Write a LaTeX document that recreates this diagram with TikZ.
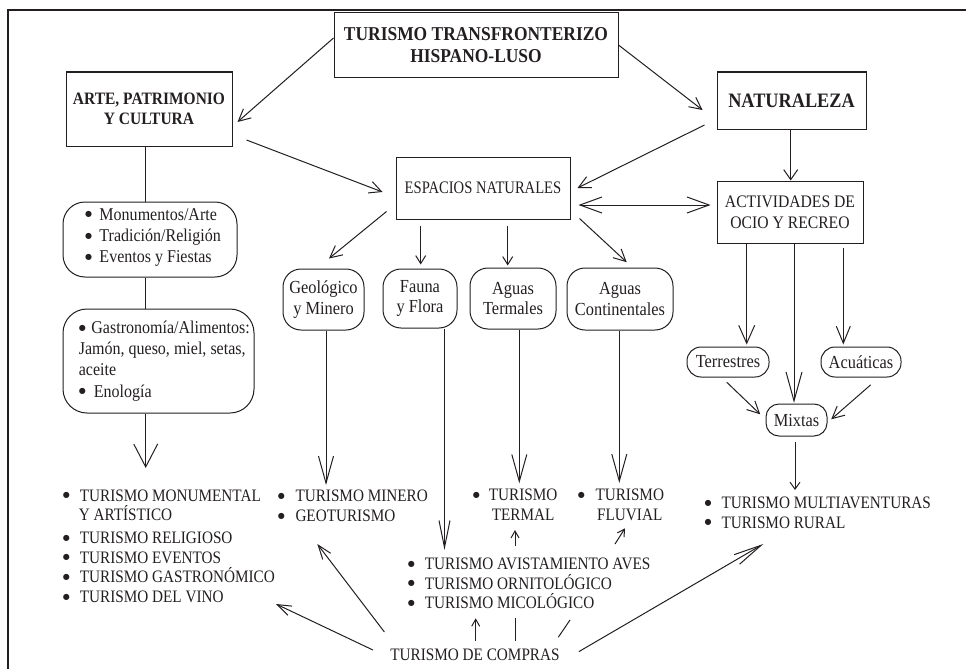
\documentclass[tikz,border=0pt]{standalone}
\usepackage{fontspec}
\setmainfont{Liberation Serif}
\newfontfamily\fcond{Liberation Serif}[FakeStretch=0.83]
\newfontfamily\flist{Liberation Serif}[FakeStretch=0.87]
\newfontfamily\fmixc{Liberation Serif}[FakeStretch=0.89]
\newfontfamily\symf{DejaVu Sans}
\usetikzlibrary{arrows.meta,calc}
\definecolor{ink}{RGB}{35,31,32}
\newcommand{\mybul}[1]{\makebox[#1][l]{\raisebox{3.3pt}{\symf\fontsize{8}{8}\selectfont ●}}}
\newcommand{\capsf}{\flist\fontsize{17.5}{19.7}\selectfont}
\newcommand{\espf}{\fcond\fontsize{17.6}{20}\selectfont}
\newcommand{\actf}{\fmixc\fontsize{17.6}{20.6}\selectfont}
\newcommand{\mixf}{\fmixc\fontsize{18.4}{20.5}\selectfont}
\newcommand{\monf}{\fmixc\fontsize{18}{21.2}\selectfont}
\newcommand{\titf}{\fmixc\fontsize{19.6}{21.7}\selectfont\bfseries}
\newcommand{\artf}{\fmixc\fontsize{17.4}{20}\selectfont\bfseries}
\newcommand{\natf}{\fmixc\fontsize{20.5}{22}\selectfont\bfseries}
\begin{document}
\begin{tikzpicture}[x=1pt,y=-1pt,color=ink,line width=1pt,
  every node/.style={inner sep=0pt},
  sqbox/.style={draw, rectangle, align=center},
  rbox/.style={draw, rectangle, rounded corners=#1, align=center},
  rbox/.default=17pt,
  aN/.style={-{Straight Barb[length=12pt,width=12pt]}},
  aM/.style={-{Straight Barb[length=8pt,width=10pt]}},
  aV/.style={-{Straight Barb[length=27pt,width=15pt]}},
  aS/.style={-{Straight Barb[length=7pt,width=8pt]}},
  aC/.style={-{Straight Barb[length=14pt,width=10pt]}}]
\useasboundingbox (0,0) rectangle (966,669);
\draw[line width=1.1pt] (8,669) -- (8,10) -- (966,10);

% main boxes
\node[sqbox, minimum width=284pt, minimum height=64pt, font=\titf] (title) at (476,45) {TURISMO TRANSFRONTERIZO\\HISPANO-LUSO};
\node[sqbox, minimum width=166pt, minimum height=74pt, font=\artf] (arte) at (149,109) {ARTE, PATRIMONIO\\Y CULTURA};
\node[sqbox, minimum width=149pt, minimum height=57pt, font=\natf] (nat) at (791.5,100.5) {NATURALEZA};
\node[sqbox, minimum width=174pt, minimum height=62pt, font=\espf] (esp) at (483,188) {ESPACIOS NATURALES};
\node[sqbox, minimum width=146pt, minimum height=62pt, font=\actf] (act) at (790,212) {ACTIVIDADES DE\\OCIO Y RECREO};

% rounded boxes
\node[rbox=18pt, minimum width=81pt, minimum height=61pt, font=\mixf] (geo) at (323.5,299.5) {Geológico\\y Minero};
\node[rbox=18pt, minimum width=74pt, minimum height=59pt, font=\mixf] (fauna) at (420,298.5) {Fauna\\y Flora};
\node[rbox=18pt, minimum width=86pt, minimum height=61pt, font=\mixf] (term) at (513,298.5) {Aguas\\Termales};
\node[rbox=18pt, minimum width=106pt, minimum height=62pt, font=\mixf] (cont) at (620,299) {Aguas\\Continentales};
\node[rbox=14pt, minimum width=82pt, minimum height=30pt, font=\mixf] (terr) at (728,362) {Terrestres};
\node[rbox=14pt, minimum width=80pt, minimum height=30pt, font=\mixf] (acu) at (861,362) {Acuáticas};
\node[rbox=13pt, minimum width=61pt, minimum height=32pt, font=\mixf] (mix) at (796.5,420) {Mixtas};
\node[rbox=22pt, minimum width=174pt, minimum height=75pt, font=\monf] (mon) at (150,239.5)
  {\begin{tabular}[b]{@{\hspace{6pt}}l@{}}\mybul{14.3pt}Monumentos/Arte\\ \mybul{14.3pt}Tradición/Religión\\ \mybul{14.3pt}Eventos y Fiestas\end{tabular}\rule[-11pt]{0pt}{0pt}};
\node[rbox=24pt, minimum width=191pt, minimum height=104pt, font=\monf] (gas) at (158.5,361)
  {\begin{tabular}{@{\hspace{11.6pt}}l@{}}\mybul{12.6pt}Gastronomía/Alimentos:\\ Jamón, queso, miel, setas,\\ aceite\\ \mybul{15pt}Enología\end{tabular}};

% lists
\node[anchor=base west, font=\capsf] (lart) at (62.3,501)
  {\begin{tabular}[t]{@{}l@{}}\mybul{17pt}TURISMO MONUMENTAL\\ \hspace*{16pt}\smash{Y ARTÍSTICO}\\[3pt]
   \mybul{17pt}TURISMO RELIGIOSO\\ \mybul{17pt}TURISMO EVENTOS\\ \mybul{17pt}\smash{TURISMO GASTRONÓMICO}\\ \mybul{17pt}TURISMO DEL VINO\end{tabular}};
\node[anchor=base west, font=\capsf] (lmin) at (277.3,501.7)
  {\begin{tabular}[t]{@{}l@{}}\mybul{17.7pt}TURISMO MINERO\\ \mybul{17.7pt}GEOTURISMO\end{tabular}};
\node[anchor=base west, font=\capsf] (lter) at (472.3,500.7)
  {\mybul{16pt}\begin{tabular}[t]{@{}c@{}}TURISMO\\TERMAL\end{tabular}};
\node[anchor=base west, font=\capsf] (lflu) at (577.3,500.7)
  {\mybul{17.7pt}\begin{tabular}[t]{@{}c@{}}TURISMO\\FLUVIAL\end{tabular}};
\node[anchor=base west, font=\capsf] (lave) at (407.3,569.3)
  {\begin{tabular}[t]{@{}l@{}}\mybul{17pt}TURISMO AVISTAMIENTO AVES\\ \mybul{17pt}\smash{TURISMO ORNITOLÓGICO}\\ \mybul{17pt}\smash{TURISMO MICOLÓGICO}\end{tabular}};
\node[anchor=base west, font=\capsf] (lmul) at (704,508.3)
  {\begin{tabular}[t]{@{}l@{}}\mybul{17pt}TURISMO MULTIAVENTURAS\\ \mybul{17pt}TURISMO RURAL\end{tabular}};
\node[anchor=base, font=\capsf] (compras) at (475,660) {TURISMO DE COMPRAS};

% free ends
\coordinate (tL) at (145.7,468);
\coordinate (tMin) at (326,485);
\coordinate (tAv) at (444.5,550);
\coordinate (tTer) at (519.3,483.3);
\coordinate (tFlu) at (619.3,483);
\coordinate (tMu) at (795,490);
\coordinate (tLc) at (276,604);
\coordinate (tMc) at (317.3,544);
\coordinate (tAc) at (475.7,618.3);
\coordinate (tAc2) at (515,618.3);
\coordinate (tAc3) at (570,620);
\coordinate (tMuc) at (763.3,544);
\coordinate (sT1) at (515,546);
\coordinate (tT1) at (515,530);
\coordinate (sF1) at (615,544);
\coordinate (tF1) at (625,528.3);

% connectors
\draw[aN] ($(title.west)+(0,-7)$) -- ($(arte.east)+(5,13)$);
\draw[aN] (title.east) -- ($(nat.west)+(-14,9.5)$);
\draw[aN] ($(arte.east)+(14,31)$) -- ($(esp.west)+(-13,4)$);
\draw[aN] ($(nat.west)+(-12,24.5)$) -- ($(esp.east)+(7,0)$);
\draw[-{Straight Barb[length=10pt,width=14pt]}] ($(nat.south)+(-0.8,0)$) -- ($(act.north)+(0.7,0)$);
\draw[{Straight Barb[length=22pt,width=16pt]}-{Straight Barb[length=22pt,width=16pt]}] ($(esp.east)+(8,17)$) -- ($(act.west)+(-6,-7)$);
\draw[aN] ($(esp.south west)+(-9,-8)$) -- ($(geo.north)+(5.5,-10)$);
\draw[aM] ($(esp.south)+(-62.3,6)$) -- ($(fauna.north)+(0.7,-4)$);
\draw[aM] ($(esp.south)+(24.7,6)$) -- ($(term.north)+(-5.3,-2)$);
\draw[aN] ($(esp.south east)+(9,-1)$) -- ($(cont.north)+(6.7,-5.3)$);
\draw ($(arte.south)+(-3.3,0)$) -- ($(mon.north)+(-4.3,0)$);
\draw ($(mon.south)+(-4.3,0)$) -- ($(gas.north)+(-12.8,0)$);
\draw[-{Straight Barb[length=23pt,width=24pt]}] ($(gas.south)+(-12.8,0)$) -- (tL);
\draw[aV] ($(geo.south)+(2.5,0)$) -- (tMin);
\draw[-{Straight Barb[length=27pt,width=11pt]}] ($(fauna.south)+(24.5,0)$) -- (tAv);
\draw[aV] ($(term.south)+(6.3,0)$) -- (tTer);
\draw[aV] ($(cont.south)+(-0.7,0)$) -- (tFlu);
\draw[-{Straight Barb[length=18pt,width=16pt]}] ($(act.south)+(-43.3,0)$) -- ($(terr.north)+(18.7,-2)$);
\draw[-{Straight Barb[length=29pt,width=16pt]}] ($(act.south)+(4,0)$) -- ($(mix.north)+(-2.5,-0.7)$);
\draw[-{Straight Barb[length=17pt,width=14pt]}] ($(act.south)+(53.3,4)$) -- ($(acu.north)+(-17.7,-2)$);
\draw[aN] ($(terr.south)+(-1.3,4.7)$) -- ($(mix.west)+(-5.3,-5.7)$);
\draw[aN] ($(acu.south)+(9.7,7.3)$) -- ($(mix.east)+(3.7,-0.7)$);
\draw[-{Straight Barb[length=7pt,width=10pt]}] ($(mix.south)+(-1.5,5.7)$) -- (tMu);
\draw[aC] ($(compras.west)+(-17,-4.3)$) -- (tLc);
\draw[aC] ($(compras.west)+(-5.5,-22.3)$) -- (tMc);
\draw[aS] ($(compras.north)+(0.7,-6.7)$) -- (tAc);
\draw ($(compras.north)+(40,-6.7)$) -- (tAc2);
\draw ($(compras.north)+(83.3,-10.7)$) -- (tAc3);
\draw[-{Straight Barb[length=28pt,width=11pt]}] ($(compras.east)+(18.8,-2.7)$) -- (tMuc);
\draw[aS] (sT1) -- (tT1);
\draw[aS] (sF1) -- (tF1);
\end{tikzpicture}
\end{document}
